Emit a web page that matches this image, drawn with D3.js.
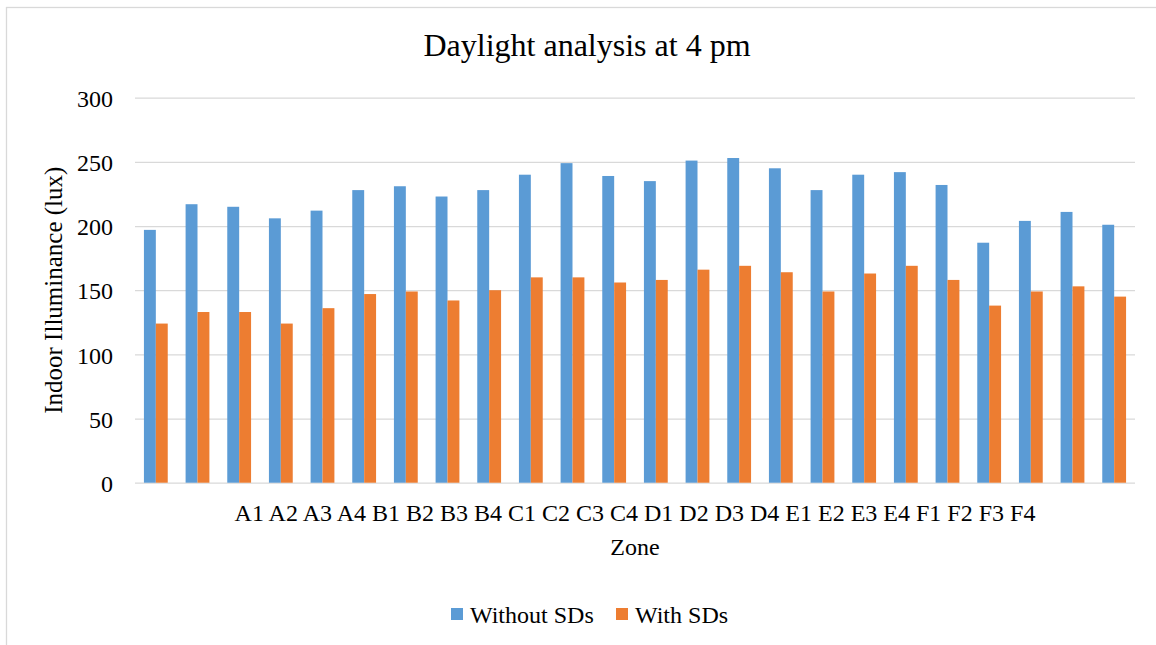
<!DOCTYPE html>
<html>
<head>
<meta charset="utf-8">
<script src="https://d3js.org/d3.v7.min.js"></script>
<style>
  body { margin: 0; background: #fff; }
  svg text { font-family: "Liberation Serif", "Times New Roman", serif; fill: #000; }
</style>
</head>
<body>
<div id="chart"></div>
<script>
//************* data ***************/
var zones = ["A1","A2","A3","A4","B1","B2","B3","B4","C1","C2","C3","C4",
             "D1","D2","D3","D4","E1","E2","E3","E4","F1","F2","F3","F4"];
var withoutSDs = [197,217,215,206,212,228,231,223,228,240,249,239,
                  235,251,253,245,228,240,242,232,187,204,211,201];
var withSDs = [124,133,133,124,136,147,149,142,150,160,160,156,
               158,166,169,164,149,163,169,158,138,149,153,145];
var seriesNames = ["Without SDs", "With SDs"];
var yTicks = [0, 50, 100, 150, 200, 250, 300];

var data = zones.map(function(z, i){
  return { zone: z, values: [withoutSDs[i], withSDs[i]] };
});

//************* set dimensions ***************/
var width = 1156, height = 645;
var plot = {left: 135, right: 1135, top: 97.7, bottom: 482.7};
var serif = "Liberation Serif, Times New Roman, serif";

var svg = d3.select("#chart")
  .append("svg")
    .attr("width", width)
    .attr("height", height)
    .attr("font-family", serif);

// chart frame (runs off the right/bottom edge like the original)
svg.append("rect")
  .attr("x", 6.5)
  .attr("y", 7.5)
  .attr("width", 1160)
  .attr("height", 660)
  .attr("fill", "#fff")
  .attr("stroke", "#d9d9d9")
  .attr("stroke-width", 1.3);

//************* scales ***************/
var x0 = d3.scaleBand()
  .domain(zones)
  .range([plot.left, plot.right]);

var x1 = d3.scaleBand()
  .domain(seriesNames)
  .range([x0.bandwidth() * 0.2143, x0.bandwidth() * 0.7857]);

var y = d3.scaleLinear()
  .domain([0, 300])
  .range([plot.bottom, plot.top]);

var color = d3.scaleOrdinal()
  .domain(seriesNames)
  .range(["#5b9bd5", "#ed7d31"]);

//************* gridlines + y axis ***************/
var yAxis = d3.axisLeft(y)
  .tickValues(yTicks)
  .tickSize(-(plot.right - plot.left))
  .tickPadding(22)
  .tickFormat(d3.format("d"));

var gy = svg.append("g")
  .attr("transform", "translate(" + plot.left + ",0)")
  .call(yAxis);
gy.attr("font-family", serif);
gy.select(".domain").remove();
gy.selectAll(".tick line")
  .attr("stroke", "#d9d9d9")
  .attr("stroke-width", 1.3);
gy.selectAll(".tick text")
  .attr("font-size", "24px")
  .attr("fill", "#000")
  .attr("dy", "0.36em");

//************* bars ***************/
var groups = svg.selectAll(".group")
  .data(data)
  .enter()
  .append("g")
    .attr("class", "group")
    .attr("transform", function(d){ return "translate(" + x0(d.zone) + ",0)"; });

groups.selectAll("rect")
  .data(function(d){ return d.values.map(function(v, i){ return {key: seriesNames[i], value: v}; }); })
  .enter()
  .append("rect")
    .attr("x", function(d){ return x1(d.key); })
    .attr("width", x1.bandwidth())
    .attr("y", function(d){ return y(d.value); })
    .attr("height", function(d){ return y(0) - y(d.value); })
    .attr("fill", function(d){ return color(d.key); });

//************* labels ***************/
svg.append("text")
  .attr("x", 587)
  .attr("y", 56)
  .attr("text-anchor", "middle")
  .attr("font-size", "32px")
  .text("Daylight analysis at 4 pm");

// category labels sit on one centred line, as in the original
svg.append("text")
  .attr("x", (plot.left + plot.right) / 2)
  .attr("y", 521)
  .attr("text-anchor", "middle")
  .attr("font-size", "24px")
  .text(zones.join(" "));

svg.append("text")
  .attr("x", (plot.left + plot.right) / 2)
  .attr("y", 555)
  .attr("text-anchor", "middle")
  .attr("font-size", "24px")
  .text("Zone");

svg.append("text")
  .attr("transform", "translate(62," + ((plot.top + plot.bottom) / 2) + ") rotate(-90)")
  .attr("text-anchor", "middle")
  .attr("font-size", "25px")
  .text("Indoor Illuminance (lux)");

//************* legend ***************/
var legendX = [451, 616];
var legend = svg.append("g");
seriesNames.forEach(function(name, i){
  var row = legend.append("g")
    .attr("transform", "translate(" + legendX[i] + ",608)");
  row.append("rect")
    .attr("width", 12)
    .attr("height", 12)
    .attr("fill", color(name));
  row.append("text")
    .attr("x", 19)
    .attr("y", 15)
    .attr("font-size", "24px")
    .text(name);
});
</script>
</body>
</html>
